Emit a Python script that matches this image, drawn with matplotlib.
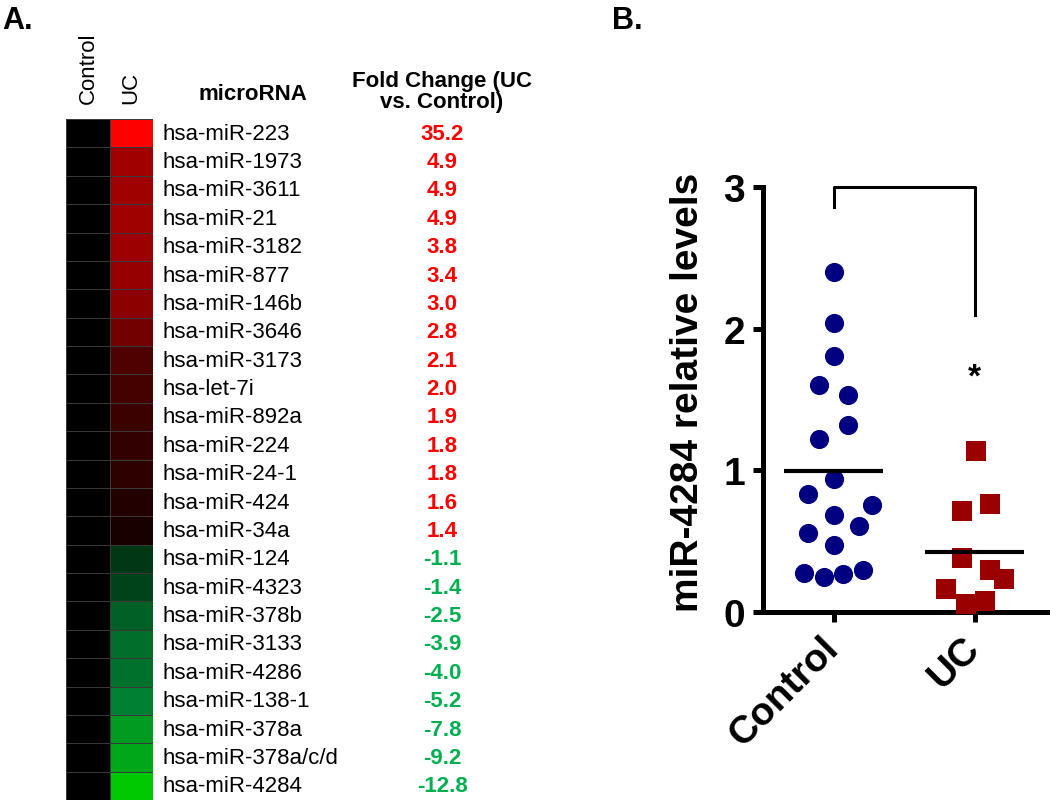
import matplotlib
matplotlib.use("Agg")
import matplotlib.pyplot as plt
import numpy as np
from matplotlib.colors import LinearSegmentedColormap
from matplotlib.transforms import blended_transform_factory

plt.rcParams['font.family'] = ['Liberation Sans', 'DejaVu Sans']

# ---- panel A data ----
mirnas = ['hsa-miR-223', 'hsa-miR-1973', 'hsa-miR-3611', 'hsa-miR-21', 'hsa-miR-3182',
          'hsa-miR-877', 'hsa-miR-146b', 'hsa-miR-3646', 'hsa-miR-3173', 'hsa-let-7i',
          'hsa-miR-892a', 'hsa-miR-224', 'hsa-miR-24-1', 'hsa-miR-424', 'hsa-miR-34a',
          'hsa-miR-124', 'hsa-miR-4323', 'hsa-miR-378b', 'hsa-miR-3133', 'hsa-miR-4286',
          'hsa-miR-138-1', 'hsa-miR-378a', 'hsa-miR-378a/c/d', 'hsa-miR-4284']
fold_change = ['35.2', '4.9', '4.9', '4.9', '3.8', '3.4', '3.0', '2.8', '2.1', '2.0',
               '1.9', '1.8', '1.8', '1.6', '1.4', '-1.1', '-1.4', '-2.5', '-3.9', '-4.0',
               '-5.2', '-7.8', '-9.2', '-12.8']
# cell intensity (signed, -1 green .. +1 red)
control_heat = [0.0] * 24
uc_heat = [1.0, 0.63, 0.62, 0.62, 0.61, 0.59, 0.55, 0.45, 0.31, 0.27, 0.23, 0.20,
           0.18, 0.14, 0.10, -0.26, -0.31, -0.45, -0.52, -0.53, -0.60, -0.74, -0.80, -0.98]
heat_columns = ['Control', 'UC']

# ---- panel B data ----
groups = ['Control', 'UC']
control_vals = [2.40, 2.04, 1.81, 1.60, 1.53, 1.32, 1.22, 0.94, 0.83, 0.755, 0.685, 0.61,
                0.555, 0.47, 0.275, 0.245, 0.27, 0.30]
control_jit = [0, 0, 0, -0.10, 0.10, 0.10, -0.10, 0, -0.18, 0.27, 0, 0.18,
               -0.18, 0, -0.21, -0.07, 0.07, 0.21]
uc_vals = [1.14, 0.76, 0.715, 0.38, 0.30, 0.235, 0.16, 0.055, 0.08]
uc_jit = [0.01, 0.11, -0.09, -0.09, 0.11, 0.21, -0.20, -0.06, 0.07]

W, H = 1050, 804
fig = plt.figure(figsize=(W / 100, H / 100), dpi=100)

# ---------------- Panel A ----------------
cmap = LinearSegmentedColormap.from_list(
    'gbr', [(0.0, (0, 0.80, 0.0)), (0.2, (0, 0.50, 0.20)), (0.5, (0, 0, 0)), (1.0, (1, 0, 0))])
ax_h = fig.add_axes([66 / W, 1 - 801 / H, 87 / W, 681 / H])
heat = np.column_stack([control_heat, uc_heat])
ax_h.pcolormesh(heat, cmap=cmap, vmin=-1, vmax=1, edgecolors='#383838', linewidth=0.5)
ax_h.set_xlim(0, 2)
ax_h.set_ylim(len(mirnas), 0)
ax_h.axis('off')

tr = blended_transform_factory(fig.transFigure, ax_h.transData)
for i, (name, fc) in enumerate(zip(mirnas, fold_change)):
    ax_h.text(162 / W, i + 0.5, name, transform=tr, fontsize=16, ha='left', va='center')
    col = '#FF0000' if not fc.startswith('-') else '#00B050'
    ax_h.text(442 / W, i + 0.5, fc, transform=tr, fontsize=16, fontweight='bold',
              color=col, ha='center', va='center')

for j, lab in enumerate(heat_columns):
    fig.text((88 + 43 * j) / W, 1 - 104 / H, lab, rotation=90, fontsize=16,
             ha='center', va='bottom')
fig.text(253 / W, 1 - 100 / H, 'microRNA', fontsize=16, fontweight='bold',
         ha='center', va='baseline')
fig.text(442 / W, 1 - 92 / H, 'Fold Change (UC\nvs. Control)', fontsize=16,
         fontweight='bold', ha='center', va='center', linespacing=1.0)

fig.text(2 / W, 1 - 29 / H, 'A.', fontsize=22, fontweight='bold', ha='left', va='baseline')
fig.text(612 / W, 1 - 29 / H, 'B.', fontsize=22, fontweight='bold', ha='left', va='baseline')

# ---------------- Panel B ----------------
ax_b = fig.add_axes([763 / W, 1 - 613 / H, 285 / W, 425 / H])
ax_b.plot(0 + np.array(control_jit), control_vals, 'o', color='#000080', markersize=13.8,
          markeredgewidth=0, clip_on=False, zorder=3)
ax_b.plot(1 + np.array(uc_jit), uc_vals, 's', color='#9B0000', markersize=13.8,
          markeredgewidth=0, clip_on=False, zorder=3)
for x, vals in enumerate([control_vals, uc_vals]):
    ax_b.hlines(np.mean(vals), x - 0.35, x + 0.35, color='black', linewidth=3, zorder=4)

# significance bracket
ax_b.plot([0, 0, 1, 1], [2.86, 3.0, 3.0, 2.10], color='black', linewidth=2.2, clip_on=False)
ax_b.text(1, 1.66, '*', fontsize=24, fontweight='bold', ha='center', va='center')

ax_b.set_xlim(-0.5, 1.52)
ax_b.set_ylim(0, 3)
ax_b.set_yticks([0, 1, 2, 3])
ax_b.set_xticks([0, 1])
ax_b.set_xticklabels(groups, rotation=45, ha='right', va='center', rotation_mode='anchor')
for s in ['top', 'right']:
    ax_b.spines[s].set_visible(False)
for s in ['left', 'bottom']:
    ax_b.spines[s].set_linewidth(3.6)
ax_b.tick_params(axis='both', width=3.6, length=7, labelsize=28, pad=6)
ax_b.tick_params(axis='x', pad=15)
for lab in ax_b.get_xticklabels() + ax_b.get_yticklabels():
    lab.set_fontweight('bold')
ax_b.set_ylabel('miR-4284 relative levels', fontsize=28, fontweight='bold')
ax_b.yaxis.set_label_coords(-0.2, 0.518)

fig.savefig('out.png', dpi=100)
